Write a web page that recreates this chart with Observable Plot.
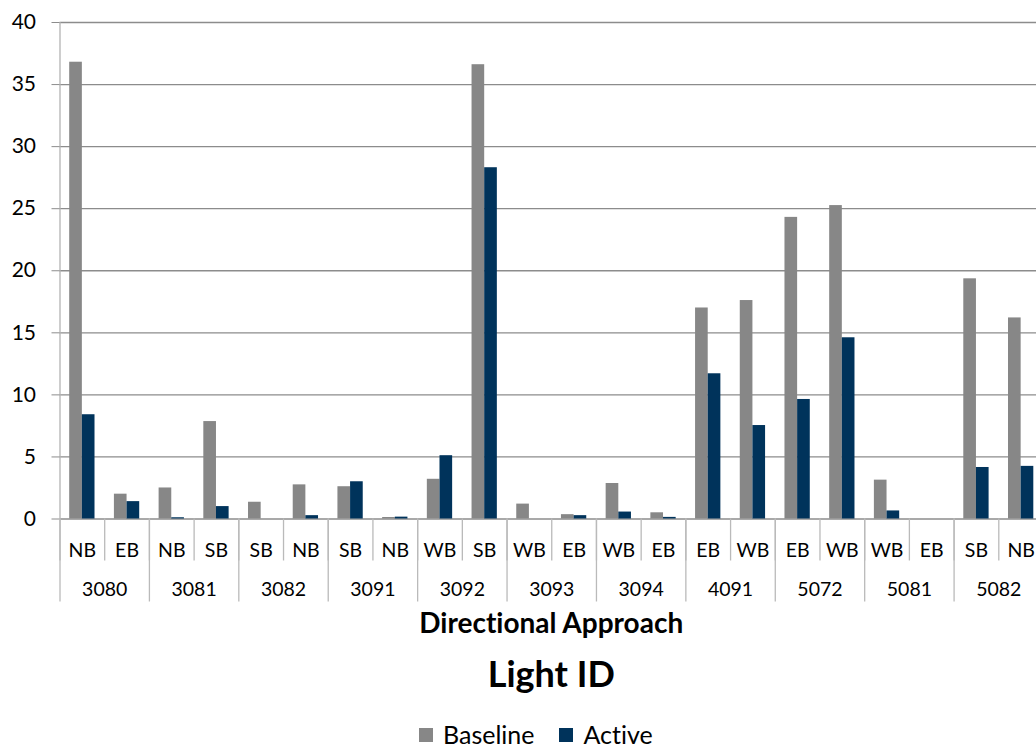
<!DOCTYPE html>
<html>
<head>
<meta charset="utf-8">
<script src="https://cdn.jsdelivr.net/npm/d3@7"></script>
<script src="https://cdn.jsdelivr.net/npm/@observablehq/plot@0.6"></script>
<style>
html, body { margin: 0; padding: 0; background: #fff; overflow: hidden; width: 1036px; height: 748px; }
#wrap { position: relative; width: 1036px; height: 748px; overflow: hidden; font-family: Lato, "Open Sans", sans-serif; color: #000; font-variant-ligatures: none; }
#chart { position: absolute; left: 0; top: 0; }
#chart svg { font-variant-ligatures: none; }
.title { position: absolute; left: 59.5px; width: 983.5px; text-align: center; font-weight: bold; line-height: 1; white-space: nowrap; }
#t1 { top: 608px; font-size: 28px; }
#t2 { top: 655px; font-size: 36px; }
#legend { position: absolute; left: 419px; top: 722px; display: flex; align-items: center; font-size: 25px; line-height: 1; }
#legend .sw { width: 14px; height: 14px; display: inline-block; margin-right: 10px; }
#legend .item { display: flex; align-items: center; margin-right: 25px; }
</style>
</head>
<body>
<div id="wrap">
  <div id="chart"></div>
  <div class="title" id="t1">Directional Approach</div>
  <div class="title" id="t2">Light ID</div>
  <div id="legend"></div>
</div>
<script>
// ---- data ----
const lightIds = ["3080","3080","3081","3081","3082","3082","3091","3091","3092","3092","3093","3093","3094","3094","4091","4091","5072","5072","5081","5081","5082","5082"];
const directions = ["NB","EB","NB","SB","SB","NB","SB","NB","WB","SB","WB","EB","WB","EB","EB","WB","EB","WB","WB","EB","SB","NB"];
const baseline = [36.8, 2.0, 2.5, 7.85, 1.35, 2.75, 2.6, 0.12, 3.2, 36.6, 1.2, 0.35, 2.86, 0.5, 17.0, 17.6, 24.3, 25.25, 3.13, 0, 19.35, 16.2];
const active   = [8.4, 1.4, 0.1, 1.0, 0, 0.27, 3.0, 0.15, 5.1, 28.3, 0, 0.27, 0.56, 0.13, 11.7, 7.53, 9.63, 14.6, 0.65, 0, 4.15, 4.24];
const groupLabels = ["3080","3081","3082","3091","3092","3093","3094","4091","5072","5081","5082"];
const yTicks = [0, 5, 10, 15, 20, 25, 30, 35, 40];
const seriesNames = ["Baseline", "Active"];
const seriesColors = ["#878787", "#00335b"];

// ---- layout / style constants ----
const BAR_W = 0.283;           // bar width as a fraction of a category slot
const gridColor = "#8c8c8c";
const sepColor = "#bababa";
const axisColor = "#b3b3b3";

const rows = [];
directions.forEach((dir, i) => {
  rows.push({i, series: "Baseline", value: baseline[i], light: lightIds[i], dir});
  rows.push({i, series: "Active", value: active[i], light: lightIds[i], dir});
});

const nCat = directions.length;
const slotCenters = d3.range(nCat).map(i => i + 0.5);
const groupCenters = groupLabels.map((g, k) => 2 * k + 1);

const chart = Plot.plot({
  width: 1046,
  height: 615,
  marginLeft: 59.5,
  marginRight: 3,
  marginTop: 22,
  marginBottom: 96.5,
  style: {fontFamily: "Lato, 'Open Sans', sans-serif", maxWidth: "none", background: "white", color: "black"},
  x: {type: "linear", domain: [0, nCat]},
  y: {domain: [0, 40]},
  color: {domain: seriesNames, range: seriesColors},
  marks: [
    Plot.gridY(yTicks, {stroke: gridColor, strokeOpacity: 1, strokeWidth: 1.3}),
    Plot.rectY(rows, {
      x1: d => d.i + 0.5 + (d.series === "Baseline" ? -BAR_W : 0),
      x2: d => d.i + 0.5 + (d.series === "Baseline" ? 0 : BAR_W),
      y: "value",
      fill: "series",
      insetLeft: 0, insetRight: 0
    }),
    Plot.ruleX([0], {stroke: axisColor, strokeWidth: 1.3}),
    Plot.axisY(yTicks, {tickSize: 8, tickPadding: 16, fontSize: 21, stroke: gridColor, fill: "black", label: null}),
    Plot.axisX(d3.range(0, nCat + 1), {tickSize: 42, tickFormat: () => "", stroke: sepColor, strokeWidth: 1.3, label: null}),
    Plot.axisX(d3.range(0, nCat + 1, 2), {tickSize: 83, tickFormat: () => "", stroke: sepColor, strokeWidth: 1.3, label: null}),
    Plot.axisX(slotCenters, {tickSize: 0, tickPadding: 24, fontSize: 19.5, fill: "black", tickFormat: d => directions[Math.floor(d)], label: null}),
    Plot.axisX(groupCenters, {tickSize: 0, tickPadding: 63.5, fontSize: 19.5, fill: "black", tickFormat: d => groupLabels[(d - 1) / 2], label: null})
  ]
});
document.getElementById("chart").appendChild(chart);

// legend
const legend = document.getElementById("legend");
seriesNames.forEach((name, k) => {
  const item = document.createElement("span");
  item.className = "item";
  const sw = document.createElement("span");
  sw.className = "sw";
  sw.style.background = seriesColors[k];
  item.appendChild(sw);
  item.appendChild(document.createTextNode(name));
  legend.appendChild(item);
});
</script>
</body>
</html>
